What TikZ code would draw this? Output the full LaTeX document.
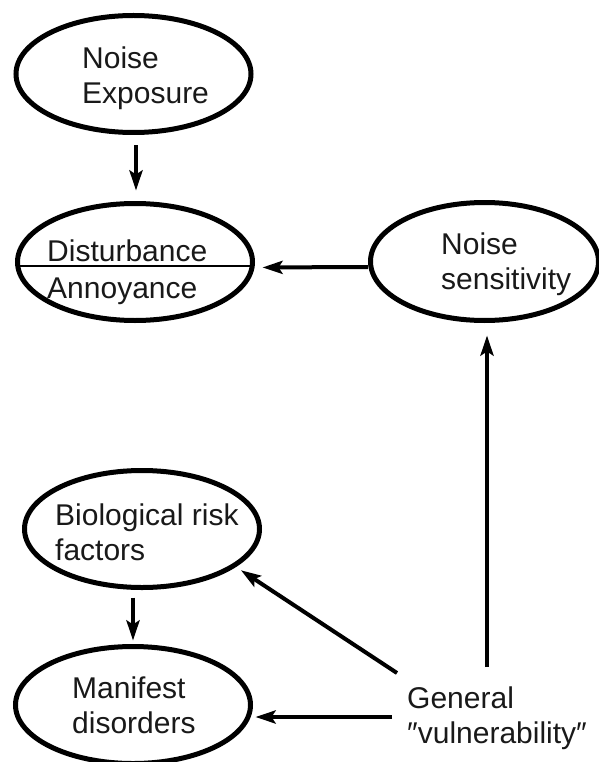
\documentclass[tikz,border=0pt]{standalone}
\usepackage{fontspec}
\setmainfont{Liberation Sans}
\usetikzlibrary{arrows.meta,calc,shapes.geometric}
\tikzset{
  oval/.style={draw=black, line width=5pt, ellipse, inner sep=0pt,
    minimum width=235pt, minimum height=117pt},
  lbl/.style={anchor=north west, inner sep=0pt, align=left, text=black!90,
    font=\fontsize{30}{35}\selectfont},
  arr/.style={line width=4pt, draw=black,
    -{Stealth[length=20pt,width=13pt,inset=4pt]}},
  divider/.style={line width=1.6pt, draw=black}
}
\begin{document}
\begin{tikzpicture}[x=1pt,y=-1pt]
\useasboundingbox (0,0) rectangle (598,762);
% ellipses
\node[oval] (ne) at (133.5,74) {};
\node[oval] (da) at (135,262) {};
\node[oval, minimum width=228pt, minimum height=118pt] (ns) at (484.5,261.5) {};
\node[oval] (bio) at (142,529) {};
\node[oval] (md) at (133,705) {};
% divider in Disturbance / Annoyance
\draw[divider] ($(da.center)+(-116,4)$) -- ($(da.center)+(116,4)$);
% texts
\node[lbl] (tne) at (82,46.5) {Noise\\Exposure};
\node[lbl] (tda) at (47,239.5) {Disturbance\\[2pt]Annoyance};
\node[lbl] (tns) at (441,232.5) {Noise\\sensitivity};
\node[lbl] (tbio) at (55,503.5) {Biological risk\\factors};
\node[lbl] (tmd) at (72,676.5) {Manifest\\disorders};
\node[lbl] (tgv) at (407,686.5) {General\\″vulnerability″};
% connector start points near "General vulnerability"
\coordinate (gvN) at (487,667);
\coordinate (gvB) at (397,673);
\coordinate (gvM) at (392,717);
% connectors
\draw[arr, shorten <=10.5pt, shorten >=10.5pt] ($(ne.south)+(2.5,0)$) -- ($(da.north)+(1,0)$);
\draw[arr, shorten >=7.5pt] ($(ns.west)+(0,5.5)$) -- ($(da.east)+(0,5.5)$);
\draw[arr, shorten >=12.5pt] (gvN) -- (gvN |- ns.south);
\draw[arr, shorten >=6pt] (gvB) -- (bio.-22);
\draw[arr, shorten >=2.5pt] (gvM) -- (gvM -| md.east);
\draw[arr, shorten <=7.5pt, shorten >=3.5pt] (md.north |- bio.south) -- (md.north);
\end{tikzpicture}
\end{document}
